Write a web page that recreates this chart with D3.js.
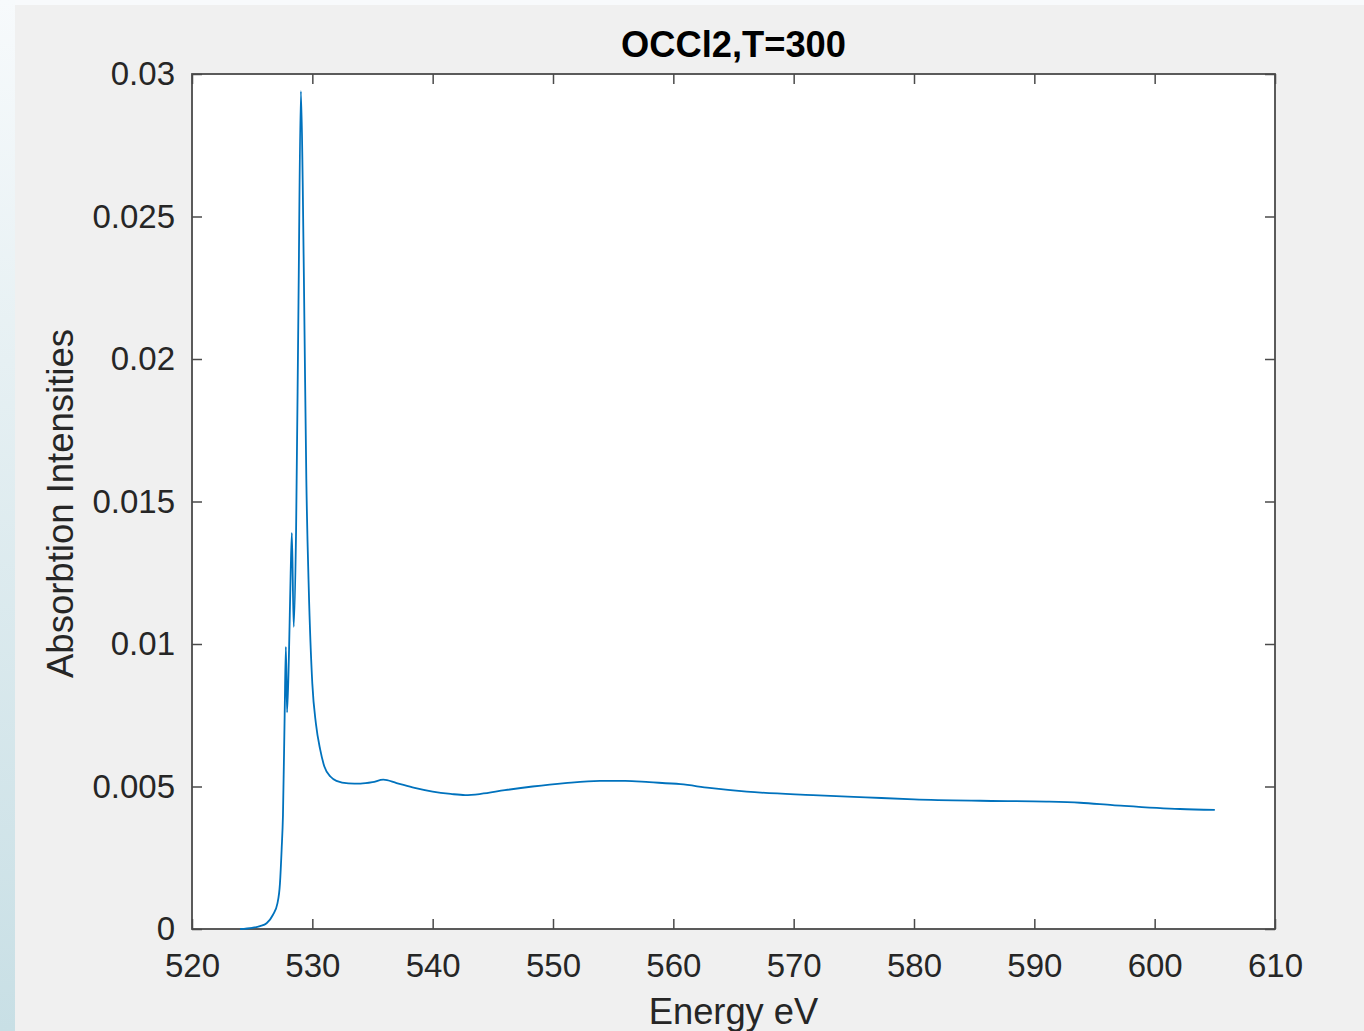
<!DOCTYPE html>
<html>
<head>
<meta charset="utf-8">
<script src="https://cdnjs.cloudflare.com/ajax/libs/d3/7.8.5/d3.min.js"></script>
<style>
  html, body { margin: 0; padding: 0; background: #f0f0f0; }
  svg { display: block; }
  .tick text { font-family: "Liberation Sans", Arial, sans-serif; }
</style>
</head>
<body>
<svg id="chart" width="1364" height="1031"></svg>
<script>
// ---- data ----
const energy = [
  524.0, 525.0, 525.65, 526.2, 526.73, 527.1, 527.31, 527.45, 527.56, 527.7,
  527.8, 527.9, 528.05, 528.2, 528.3, 528.45, 528.65, 528.85, 529.05, 529.2,
  529.35, 529.5, 529.7, 530.0, 530.3, 530.65, 531.0, 531.5, 532.0, 533.0,
  534.0, 535.0, 535.9, 537.0, 538.5, 540.0, 541.5, 542.7, 544.0, 546.0,
  548.3, 551.0, 553.9, 556.0, 558.0, 560.6, 563.0, 566.1, 571.6, 576.0,
  580.0, 585.5, 591.0, 593.8, 596.5, 602.1, 605.0
];
const intensity = [
  0.0, 0.00004, 0.0001, 0.0002, 0.0005, 0.0009, 0.0016, 0.0028, 0.0040, 0.0075,
  0.0099, 0.0076, 0.0095, 0.0125, 0.0139, 0.0106, 0.0140, 0.0220, 0.0294, 0.0262,
  0.0210, 0.0158, 0.0120, 0.0086, 0.0072, 0.0063, 0.0057, 0.00535, 0.0052, 0.00511,
  0.0051, 0.00515, 0.00524, 0.00512, 0.00495, 0.00482, 0.00474, 0.0047, 0.00474, 0.00487,
  0.0050, 0.00512, 0.0052, 0.0052, 0.00515, 0.00508, 0.00495, 0.00482, 0.0047, 0.00462,
  0.00455, 0.0045, 0.00447, 0.00443, 0.00435, 0.00421, 0.00418
];
const xTicks = [520, 530, 540, 550, 560, 570, 580, 590, 600, 610];
const yTicks = [0, 0.005, 0.01, 0.015, 0.02, 0.025, 0.03];
const yTickLabels = ["0", "0.005", "0.01", "0.015", "0.02", "0.025", "0.03"];
const titleText = "OCCl2,T=300";
const xLabel = "Energy eV";
const yLabel = "Absorbtion Intensities";

// ---- layout ----
const W = 1364, H = 1031;
const L = 192, R = 1275, T = 74, B = 929;
const svg = d3.select("#chart");

// window decorations: top light strip and left bluish strip
const defs = svg.append("defs");
const g1 = defs.append("linearGradient").attr("id", "leftStrip")
  .attr("x1", 0).attr("y1", 0).attr("x2", 0).attr("y2", 1);
g1.append("stop").attr("offset", "0%").attr("stop-color", "#f7fafc");
g1.append("stop").attr("offset", "35%").attr("stop-color", "#e6f0f3");
g1.append("stop").attr("offset", "100%").attr("stop-color", "#c8dfe5");
svg.append("rect").attr("x", 0).attr("y", 0).attr("width", W).attr("height", H).attr("fill", "#f0f0f0");
svg.append("rect").attr("x", 0).attr("y", 0).attr("width", W).attr("height", 5).attr("fill", "#f8fafc");
svg.append("rect").attr("x", 0).attr("y", 0).attr("width", 15).attr("height", H).attr("fill", "url(#leftStrip)");

const x = d3.scaleLinear().domain([520, 610]).range([L, R]);
const y = d3.scaleLinear().domain([0, 0.03]).range([B, T]);

// plot area
svg.append("rect").attr("x", L).attr("y", T).attr("width", R - L).attr("height", B - T).attr("fill", "#ffffff");

const fontSize = 33;
const axisColor = "#262626";

function styleAxis(g, showText) {
  g.select(".domain").remove();
  g.selectAll(".tick line").attr("stroke", "#4a4a4a").attr("stroke-width", 1.5);
  g.selectAll(".tick text")
    .attr("fill", axisColor)
    .attr("font-size", fontSize)
    .attr("font-family", "'Liberation Sans', Arial, sans-serif")
    .style("display", showText ? null : "none");
}

const yFmt = d => yTickLabels[yTicks.indexOf(d)];

svg.append("g").attr("transform", `translate(0,${B})`)
  .call(d3.axisBottom(x).tickValues(xTicks).tickSize(-10).tickPadding(25).tickFormat(d3.format("d")))
  .call(g => styleAxis(g, true));
svg.append("g").attr("transform", `translate(0,${T})`)
  .call(d3.axisTop(x).tickValues(xTicks).tickSize(-10))
  .call(g => styleAxis(g, false));
svg.append("g").attr("transform", `translate(${L},0)`)
  .call(d3.axisLeft(y).tickValues(yTicks).tickSize(-10).tickPadding(17).tickFormat(yFmt))
  .call(g => styleAxis(g, true));
svg.append("g").attr("transform", `translate(${R},0)`)
  .call(d3.axisRight(y).tickValues(yTicks).tickSize(-10))
  .call(g => styleAxis(g, false));

// frame
svg.append("rect").attr("x", L).attr("y", T).attr("width", R - L).attr("height", B - T)
  .attr("fill", "none").attr("stroke", "#4a4a4a").attr("stroke-width", 1.8);

// data line
const data = energy.map((e, i) => ({ e, v: intensity[i] }));
const line = d3.line().x(d => x(d.e)).y(d => y(d.v)).curve(d3.curveMonotoneX);
svg.append("path").datum(data)
  .attr("d", line)
  .attr("fill", "none")
  .attr("stroke", "#0072BD")
  .attr("stroke-width", 1.8)
  .attr("stroke-linejoin", "round");

// title and labels
svg.append("text").attr("x", (L + R) / 2).attr("y", 57)
  .attr("text-anchor", "middle")
  .attr("font-family", "'Liberation Sans', Arial, sans-serif")
  .attr("font-weight", "bold").attr("font-size", 36.3).attr("fill", "#000")
  .text(titleText);
svg.append("text").attr("x", (L + R) / 2).attr("y", 1024)
  .attr("text-anchor", "middle")
  .attr("font-family", "'Liberation Sans', Arial, sans-serif")
  .attr("font-size", 36.3).attr("fill", axisColor)
  .text(xLabel);
svg.append("text")
  .attr("transform", `translate(73,${(T + B) / 2 + 2}) rotate(-90)`)
  .attr("text-anchor", "middle")
  .attr("font-family", "'Liberation Sans', Arial, sans-serif")
  .attr("font-size", 36.5).attr("fill", axisColor)
  .text(yLabel);
</script>
</body>
</html>
